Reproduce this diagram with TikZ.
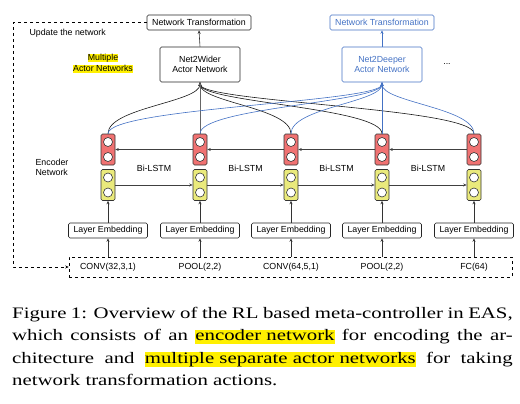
\documentclass[tikz,border=0pt]{standalone}
\usepackage{fontspec}
\setmainfont{Liberation Serif}
\setsansfont{Liberation Sans}
\usetikzlibrary{arrows.meta}

\definecolor{cellred}{RGB}{240,114,114}
\definecolor{cellyel}{RGB}{234,234,124}
\definecolor{nblue}{RGB}{68,114,196}
\definecolor{hlyellow}{RGB}{255,240,0}

\newcommand\hlbox[1]{{\setlength\fboxsep{0pt}\colorbox{hlyellow}{\vphantom{Ag}#1}}}

\begin{document}
\begin{tikzpicture}[
        x=1pt,y=-1pt,
        font=\sffamily\fontsize{8.8}{10}\selectfont,
        box/.style={draw=black!85, rounded corners=1.5pt, line width=0.6pt,
            inner sep=0pt, align=center},
        cellbox/.style={draw=black!80, rounded corners=1.5pt, line width=0.6pt,
            minimum width=14pt, minimum height=31pt, inner sep=0pt},
        dot/.style={draw=black!80, fill=white, circle, line width=0.6pt,
            minimum size=9pt, inner sep=0pt},
        arr/.style={-{Stealth[length=3.5pt,width=3pt]}, line width=0.6pt},
    ]
  \useasboundingbox (0,0) rectangle (520,404);

  % actor networks and their outputs
  \node[box, minimum width=104pt, minimum height=15pt] (wtrans) at (199,22.5) {Network Transformation};
  \node[box, minimum width=80pt, minimum height=35pt] (wider) at (200,64.5) {Net2Wider\\Actor Network};
  \node[box, draw=nblue, text=nblue, minimum width=104pt, minimum height=15pt] (dtrans) at (382,22.5) {Network Transformation};
  \node[box, draw=nblue, text=nblue, minimum width=80pt, minimum height=35pt] (deeper) at (382,64.5) {Net2Deeper\\Actor Network};
  \node (more) at (447,64) {...};
  \draw[arr, black!80] (wider.north) -- (wtrans.south);
  \draw[arr, nblue] (deeper.north) -- (dtrans.south);

  \node[anchor=west] (update) at (26,33) {Update the network};
  \node[align=center, inner sep=0pt, font=\sffamily\fontsize{8.8}{11}\selectfont] (multi) at (103,63.5) {\hlbox{Multiple}\\\hlbox{Actor Networks}};
  \node[align=left] (enc) at (52,167) {Encoder\\Network};

  % architecture to encode
  \node[draw, dashed, line width=0.6pt, minimum width=443pt, minimum height=20pt] (arch) at (290.5,267) {};

  % encoder columns
  \foreach \x/\lab [count=\i] in {108/{CONV(32,3,1)}, 200/{POOL(2,2)}, 291/{CONV(64,5,1)}, 382/{POOL(2,2)}, 474/{FC(64)}} {
    \node[cellbox, fill=cellred] (r\i) at (\x,149.5) {};
    \node[dot] at (\x,142) {};
    \node[dot] at (\x,157) {};
    \node[cellbox, fill=cellyel] (y\i) at (\x,185) {};
    \node[dot] at (\x,177.5) {};
    \node[dot] at (\x,192.5) {};
    \node[box, minimum width=79pt, minimum height=15pt] (emb\i) at (\x,230.5) {Layer Embedding};
    \node (op\i) at (\x,267) {\lab};
    \draw[arr, black!80] (emb\i |- arch.north) -- (emb\i.south);
    \draw[arr, black!80] (emb\i.north) -- (y\i.south);
  }

  \foreach \i/\j in {1/2,2/3,3/4,4/5} {
    \draw[arr, black!75] (y\i.east) -- (y\j.west);
    \draw[arr, black!75] (r\j.west) -- (r\i.east);
    \path (r\i.south) -- (y\j.north) node[midway, yshift=-1.5pt] (bi\i) {Bi-LSTM};
  }

  % hidden states to the actor networks
  \foreach \i in {1,3,4,5}
    \draw[arr, black!90] (r\i.north) .. controls +(0,-26) and +(0,20) .. (wider.south);
  \draw[arr, black!60] (r2.north) -- (wider.south);
  \foreach \i in {1,2,3,5}
    \draw[arr, nblue] (r\i.north) .. controls +(0,-26) and +(0,20) .. (deeper.south);
  \draw[arr, nblue] (r4.north) -- (deeper.south);

  % update loop
  \coordinate (fb) at (13,267);
  \draw[arr, dashed] (wtrans.west) -| (fb) -- (arch.west);

  % caption
  \node[anchor=north west, inner sep=0pt] (caption) at (12,307) {\scalebox{1.3}[1]{\parbox{385pt}{%
      \rmfamily\fontsize{16}{22.5}\selectfont\parindent=0pt
      Figure 1: Overview of the RL based meta-controller in EAS,\linebreak
      which consists of an \hlbox{encoder network} for encoding the ar-\linebreak
      chitecture and \hlbox{multiple separate actor networks} for taking\linebreak
      network transformation actions.}}};
\end{tikzpicture}
\end{document}
